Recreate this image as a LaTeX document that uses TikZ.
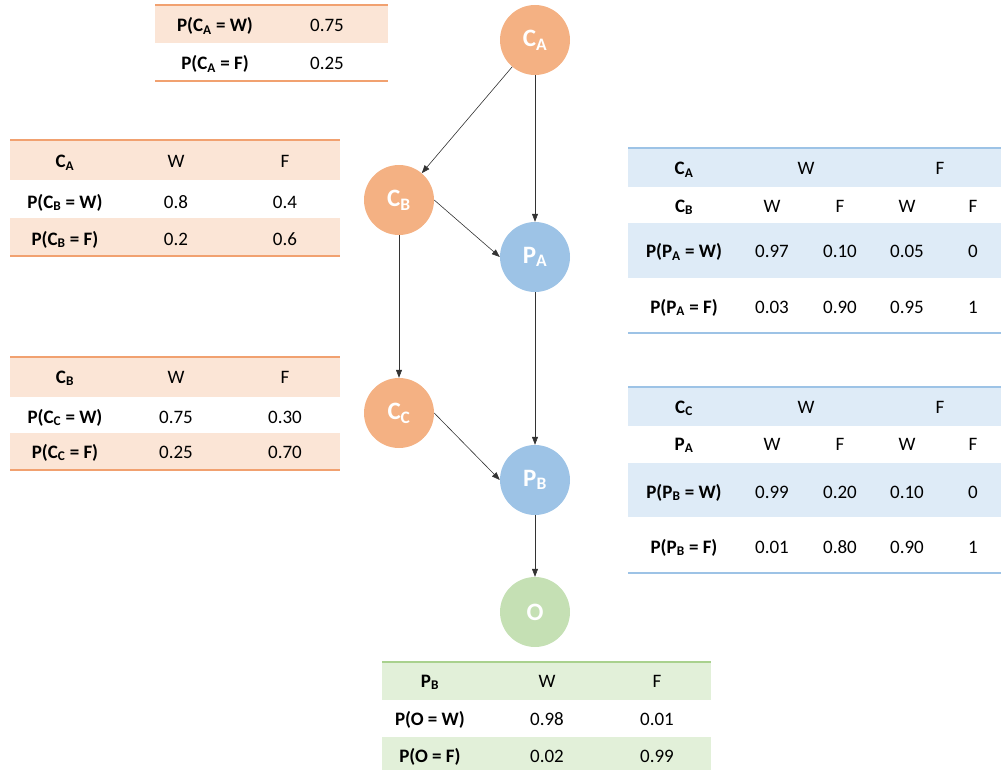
\documentclass[tikz,border=0pt]{standalone}
\usepackage{fontspec}
\setmainfont{Carlito}
\usepackage{xcolor}
\usepackage{tikz}
\usetikzlibrary{arrows.meta}

\definecolor{orangenode}{HTML}{F4B183}
\definecolor{orangefill}{HTML}{FBE5D6}
\definecolor{orangeline}{HTML}{F1A170}
\definecolor{bluenode}{HTML}{9DC3E6}
\definecolor{bluefill}{HTML}{DEEBF7}
\definecolor{blueline}{HTML}{9DC3E6}
\definecolor{greennode}{HTML}{C5E0B4}
\definecolor{greenfill}{HTML}{E2F0D9}
\definecolor{greenline}{HTML}{A9D18E}

\newcommand{\lowidx}[1]{\textsubscript{#1}}

\tikzset{
  varnode/.style={circle, minimum size=70pt, inner sep=0pt, text=white,
    font=\fontsize{25}{30}\selectfont\bfseries},
  head/.style={anchor=base, inner sep=0pt, font=\fontsize{19}{23}\selectfont\bfseries},
  cell/.style={anchor=base, inner sep=0pt, font=\fontsize{19}{23}\selectfont},
  link/.style={-{Triangle[length=8pt,width=6pt]}, draw=black!80, line width=0.6pt},
  rule/.style={line width=1.6pt},
}

\begin{document}
\begin{tikzpicture}[x=1pt, y=-1pt]
\useasboundingbox (0,0) rectangle (1001,770);

% nodes of the network
\node[varnode, fill=orangenode] (ca) at (535,40) {C\lowidx{A}};
\node[varnode, fill=orangenode] (cb) at (399,200) {C\lowidx{B}};
\node[varnode, fill=bluenode] (pa) at (535,257) {P\lowidx{A}};
\node[varnode, fill=orangenode] (cc) at (399,413) {C\lowidx{C}};
\node[varnode, fill=bluenode] (pb) at (535,480) {P\lowidx{B}};
\node[varnode, fill=greennode] (o) at (535,612) {O};

\draw[link] (ca) -- (cb);
\draw[link] (ca.south) -- (pa.north);
\draw[link] (cb.east) -- (pa.west);
\draw[link] (cb.south) -- (cc.north);
\draw[link] (pa.south) -- (pb.north);
\draw[link] (cc.east) -- (pb.west);
\draw[link] (pb.south) -- (o.north);

% table for C_A
\fill[orangefill] (155,5) rectangle (388,43);
\draw[rule, orangeline] (155,5) -- (388,5);
\draw[rule, orangeline] (155,81) -- (388,81);
\node[head] (tca_l1) at (215,32) {P(C\lowidx{A} = W)};
\node[cell] (tca_v1) at (327,32) {0.75};
\node[head] (tca_l2) at (215,70) {P(C\lowidx{A} = F)};
\node[cell] (tca_v2) at (327,70) {0.25};

% table for C_B
\fill[orangefill] (10,140) rectangle (340,180);
\fill[orangefill] (10,218) rectangle (340,256);
\draw[rule, orangeline] (10,140) -- (340,140);
\draw[rule, orangeline] (10,256) -- (340,256);
\node[head] (tcb_h0) at (65,168) {C\lowidx{A}};
\node[cell] (tcb_h1) at (176,168) {W};
\node[cell] (tcb_h2) at (285,168) {F};
\node[head] (tcb_l1) at (65,208) {P(C\lowidx{B} = W)};
\node[cell] (tcb_v11) at (176,208) {0.8};
\node[cell] (tcb_v12) at (285,208) {0.4};
\node[head] (tcb_l2) at (65,245) {P(C\lowidx{B} = F)};
\node[cell] (tcb_v21) at (176,245) {0.2};
\node[cell] (tcb_v22) at (285,245) {0.6};

% table for C_C
\fill[orangefill] (10,357) rectangle (340,397);
\fill[orangefill] (10,433) rectangle (340,470);
\draw[rule, orangeline] (10,357) -- (340,357);
\draw[rule, orangeline] (10,470) -- (340,470);
\node[head] (tcc_h0) at (65,383) {C\lowidx{B}};
\node[cell] (tcc_h1) at (176,383) {W};
\node[cell] (tcc_h2) at (285,383) {F};
\node[head] (tcc_l1) at (65,423) {P(C\lowidx{C} = W)};
\node[cell] (tcc_v11) at (176,423) {0.75};
\node[cell] (tcc_v12) at (285,423) {0.30};
\node[head] (tcc_l2) at (65,458) {P(C\lowidx{C} = F)};
\node[cell] (tcc_v21) at (176,458) {0.25};
\node[cell] (tcc_v22) at (285,458) {0.70};

% table for P_A
\fill[bluefill] (628,148) rectangle (1001,187);
\fill[bluefill] (628,223) rectangle (1001,278);
\draw[rule, blueline] (628,148) -- (1001,148);
\draw[rule, blueline] (628,333) -- (1001,333);
\node[head] (tpa_h0) at (684,175) {C\lowidx{A}};
\node[cell] (tpa_h1) at (806,175) {W};
\node[cell] (tpa_h2) at (940,175) {F};
\node[head] (tpa_g0) at (684,212) {C\lowidx{B}};
\node[cell] (tpa_g1) at (772,212) {W};
\node[cell] (tpa_g2) at (840,212) {F};
\node[cell] (tpa_g3) at (907,212) {W};
\node[cell] (tpa_g4) at (973,212) {F};
\node[head] (tpa_l1) at (684,258) {P(P\lowidx{A} = W)};
\node[cell] (tpa_v11) at (772,258) {0.97};
\node[cell] (tpa_v12) at (840,258) {0.10};
\node[cell] (tpa_v13) at (907,258) {0.05};
\node[cell] (tpa_v14) at (973,258) {0};
\node[head] (tpa_l2) at (684,313) {P(P\lowidx{A} = F)};
\node[cell] (tpa_v21) at (772,313) {0.03};
\node[cell] (tpa_v22) at (840,313) {0.90};
\node[cell] (tpa_v23) at (907,313) {0.95};
\node[cell] (tpa_v24) at (973,313) {1};

% table for P_B
\fill[bluefill] (628,387) rectangle (1001,426);
\fill[bluefill] (628,463) rectangle (1001,517);
\draw[rule, blueline] (628,387) -- (1001,387);
\draw[rule, blueline] (628,573) -- (1001,573);
\node[head] (tpb_h0) at (684,413) {C\lowidx{C}};
\node[cell] (tpb_h1) at (806,413) {W};
\node[cell] (tpb_h2) at (940,413) {F};
\node[head] (tpb_g0) at (684,450) {P\lowidx{A}};
\node[cell] (tpb_g1) at (772,450) {W};
\node[cell] (tpb_g2) at (840,450) {F};
\node[cell] (tpb_g3) at (907,450) {W};
\node[cell] (tpb_g4) at (973,450) {F};
\node[head] (tpb_l1) at (684,498) {P(P\lowidx{B} = W)};
\node[cell] (tpb_v11) at (772,498) {0.99};
\node[cell] (tpb_v12) at (840,498) {0.20};
\node[cell] (tpb_v13) at (907,498) {0.10};
\node[cell] (tpb_v14) at (973,498) {0};
\node[head] (tpb_l2) at (684,553) {P(P\lowidx{B} = F)};
\node[cell] (tpb_v21) at (772,553) {0.01};
\node[cell] (tpb_v22) at (840,553) {0.80};
\node[cell] (tpb_v23) at (907,553) {0.90};
\node[cell] (tpb_v24) at (973,553) {1};

% table for O
\fill[greenfill] (382,662) rectangle (711,700);
\fill[greenfill] (382,737) rectangle (711,770);
\draw[rule, greenline] (382,662) -- (711,662);
\node[head] (to_h0) at (430,687) {P\lowidx{B}};
\node[cell] (to_h1) at (547,687) {W};
\node[cell] (to_h2) at (657,687) {F};
\node[head] (to_l1) at (430,725) {P(O = W)};
\node[cell] (to_v11) at (547,725) {0.98};
\node[cell] (to_v12) at (657,725) {0.01};
\node[head] (to_l2) at (430,762) {P(O = F)};
\node[cell] (to_v21) at (547,762) {0.02};
\node[cell] (to_v22) at (657,762) {0.99};

\end{tikzpicture}
\end{document}
